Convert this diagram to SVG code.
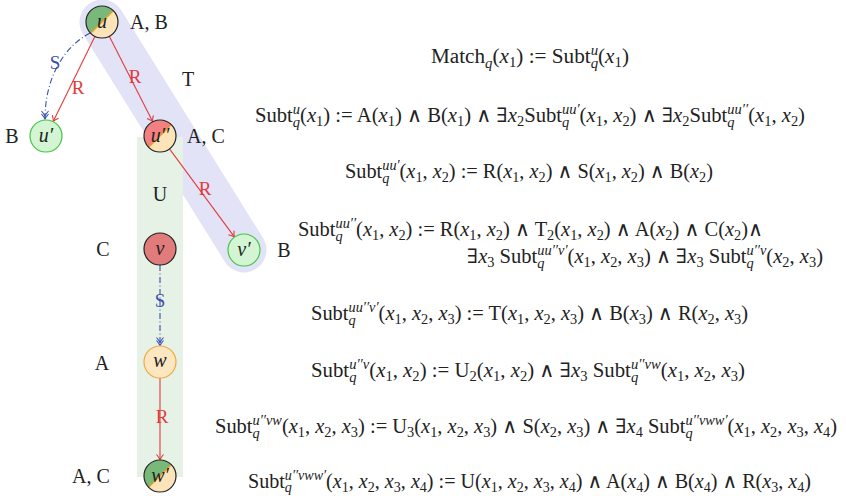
<svg xmlns="http://www.w3.org/2000/svg" width="846" height="496" viewBox="0 0 846 496">
<style>
.f{font-family:"Liberation Serif","DejaVu Serif",serif;font-size:20px;fill:#222}
.i{font-style:italic}
.sc{font-size:14px}
.nl{font-family:"Liberation Serif","DejaVu Serif",serif;font-size:20px;fill:#222;text-anchor:middle}
.nt{font-family:"Liberation Serif","DejaVu Serif",serif;font-size:20px;font-style:italic;fill:#222;text-anchor:middle}
.el{font-family:"Liberation Serif","DejaVu Serif",serif;font-size:19px;text-anchor:middle}
.red{fill:#e23b3b}
.blue{fill:#3a4fae}
.er{stroke:#e23b3b;stroke-width:1.1;fill:none}
.eb{stroke:#3a4fae;stroke-width:1.1;fill:none;stroke-dasharray:6 2.5 1 2.5}
.nk{stroke:#222;stroke-width:1.2}
.dg{stroke:#f0a020;stroke-width:1.3}
</style>
<defs>
<marker id="ar" markerUnits="userSpaceOnUse" markerWidth="12" markerHeight="12" viewBox="-8 -6 10 12" refX="0" refY="0" orient="auto">
<path d="M-5,-3.5 Q-2,-1 0,0 Q-2,1 -5,3.5" fill="none" stroke="#e23b3b" stroke-width="1.1"/>
</marker>
<marker id="ab" markerUnits="userSpaceOnUse" markerWidth="14" markerHeight="12" viewBox="-10 -6 12 12" refX="0" refY="0" orient="auto">
<path d="M-5,-3.5 Q-2,-1 0,0 Q-2,1 -5,3.5 M-8,-3.5 Q-5,-1 -3,0 Q-5,1 -8,3.5" fill="none" stroke="#3a4fae" stroke-width="1.1"/>
</marker>
</defs>
<rect width="846" height="496" fill="#fff"/>
<g id="backgrounds">
<line x1="102" y1="22" x2="244" y2="250" stroke="#e3e3f7" stroke-width="45" stroke-linecap="round"/>
<rect x="137" y="137" width="46" height="340" fill="#e6f2e6"/>
<text class="nl" x="188" y="86">T</text>
<text class="nl" x="160" y="201">U</text>
</g>
<g id="connectors">
<line class="er" x1="94.9" y1="36.4" x2="53.3" y2="121.2" marker-end="url(#ar)"/>
<text class="el red" x="78" y="94">R</text>
<line class="er" x1="109.3" y1="36.3" x2="152.5" y2="121.3" marker-end="url(#ar)"/>
<text class="el red" x="135" y="83">R</text>
<path class="eb" d="M90,33 C62,48 45,80 45,119" marker-end="url(#ab)"/>
<text class="el blue" x="55" y="69">S</text>
<line class="er" x1="169.5" y1="148.9" x2="234.2" y2="236.7" marker-end="url(#ar)"/>
<text class="el red" x="205" y="195">R</text>
<line class="eb" x1="160" y1="265" x2="160" y2="345.5" marker-end="url(#ab)"/>
<text class="el blue" x="160" y="307">S</text>
<line class="er" x1="160" y1="378" x2="160" y2="459.5" marker-end="url(#ar)"/>
<text class="el red" x="162" y="423">R</text>
</g>
<g id="node-u">
<path d="M90.69,33.31 A16,16 0 0 1 113.31,10.69 Z" fill="#78b878"/>
<path d="M90.69,33.31 A16,16 0 0 0 113.31,10.69 Z" fill="#fde4b8"/>
<line class="dg" x1="90.69" y1="33.31" x2="113.31" y2="10.69"/>
<circle cx="102" cy="22" r="16" fill="none" class="nk"/>
<text class="nt" x="102" y="28">u</text>
<text class="nl" x="149" y="29">A, B</text>
</g>
<g id="node-u1">
<circle cx="46" cy="136" r="16" fill="#d3f5d3" stroke="#47c347" stroke-width="1.2"/>
<text class="nt" x="46" y="142">u′</text>
<text class="nl" x="12" y="143">B</text>
</g>
<g id="node-u2">
<path d="M148.69,147.31 A16,16 0 0 1 171.31,124.69 Z" fill="#f28080"/>
<path d="M148.69,147.31 A16,16 0 0 0 171.31,124.69 Z" fill="#fde4b8"/>
<line class="dg" x1="148.69" y1="147.31" x2="171.31" y2="124.69"/>
<circle cx="160" cy="136" r="16" fill="none" class="nk"/>
<text class="nt" x="160" y="142">u′′</text>
<text class="nl" x="206" y="143">A, C</text>
</g>
<g id="node-v">
<circle cx="160" cy="249" r="16" fill="#e27b7b" class="nk"/>
<text class="nt" x="160" y="255">v</text>
<text class="nl" x="103" y="256">C</text>
</g>
<g id="node-v1">
<circle cx="244" cy="250" r="16" fill="#d3f5d3" stroke="#47c347" stroke-width="1.2"/>
<text class="nt" x="244" y="256">v′</text>
<text class="nl" x="284" y="257">B</text>
</g>
<g id="node-w">
<circle cx="160" cy="362" r="16" fill="#fde7c2" stroke="#f2a93b" stroke-width="1.2"/>
<text class="nt" x="160" y="367">w</text>
<text class="nl" x="102" y="370">A</text>
</g>
<g id="node-w1">
<path d="M148.69,487.31 A16,16 0 0 1 171.31,464.69 Z" fill="#78b878"/>
<path d="M148.69,487.31 A16,16 0 0 0 171.31,464.69 Z" fill="#fde4b8"/>
<line class="dg" x1="148.69" y1="487.31" x2="171.31" y2="464.69"/>
<circle cx="160" cy="476" r="16" fill="none" class="nk"/>
<text class="nt" x="160" y="482">w′</text>
<text class="nl" x="91" y="483">A, C</text>
</g>
<g id="formulas">
<text class="f" x="431" y="63" textLength="198" lengthAdjust="spacingAndGlyphs">Match<tspan class="sc i" dy="5">q</tspan><tspan dy="-5">(</tspan><tspan class="i">x</tspan><tspan class="sc" dy="4">1</tspan><tspan dy="-4">) := Subt</tspan><tspan class="sc i" dy="5">q</tspan><tspan class="sc i" dx="-7" dy="-13">u</tspan><tspan dy="8">(</tspan><tspan class="i">x</tspan><tspan class="sc" dy="4">1</tspan><tspan dy="-4">)</tspan></text>
<text class="f" x="255" y="122" textLength="550" lengthAdjust="spacingAndGlyphs">Subt<tspan class="sc i" dy="5">q</tspan><tspan class="sc i" dx="-7" dy="-13">u</tspan><tspan dy="8">(</tspan><tspan class="i">x</tspan><tspan class="sc" dy="4">1</tspan><tspan dy="-4">) := A(</tspan><tspan class="i">x</tspan><tspan class="sc" dy="4">1</tspan><tspan dy="-4">) ∧ B(</tspan><tspan class="i">x</tspan><tspan class="sc" dy="4">1</tspan><tspan dy="-4">) ∧ ∃</tspan><tspan class="i">x</tspan><tspan class="sc" dy="4">2</tspan><tspan dy="-4">Subt</tspan><tspan class="sc i" dy="5">q</tspan><tspan class="sc i" dx="-7" dy="-13">uu′</tspan><tspan dy="8">(</tspan><tspan class="i">x</tspan><tspan class="sc" dy="4">1</tspan><tspan dy="-4">, </tspan><tspan class="i">x</tspan><tspan class="sc" dy="4">2</tspan><tspan dy="-4">) ∧ ∃</tspan><tspan class="i">x</tspan><tspan class="sc" dy="4">2</tspan><tspan dy="-4">Subt</tspan><tspan class="sc i" dy="5">q</tspan><tspan class="sc i" dx="-7" dy="-13">uu′′</tspan><tspan dy="8">(</tspan><tspan class="i">x</tspan><tspan class="sc" dy="4">1</tspan><tspan dy="-4">, </tspan><tspan class="i">x</tspan><tspan class="sc" dy="4">2</tspan><tspan dy="-4">)</tspan></text>
<text class="f" x="345" y="178" textLength="368" lengthAdjust="spacingAndGlyphs">Subt<tspan class="sc i" dy="5">q</tspan><tspan class="sc i" dx="-7" dy="-13">uu′</tspan><tspan dy="8">(</tspan><tspan class="i">x</tspan><tspan class="sc" dy="4">1</tspan><tspan dy="-4">, </tspan><tspan class="i">x</tspan><tspan class="sc" dy="4">2</tspan><tspan dy="-4">) := R(</tspan><tspan class="i">x</tspan><tspan class="sc" dy="4">1</tspan><tspan dy="-4">, </tspan><tspan class="i">x</tspan><tspan class="sc" dy="4">2</tspan><tspan dy="-4">) ∧ S(</tspan><tspan class="i">x</tspan><tspan class="sc" dy="4">1</tspan><tspan dy="-4">, </tspan><tspan class="i">x</tspan><tspan class="sc" dy="4">2</tspan><tspan dy="-4">) ∧ B(</tspan><tspan class="i">x</tspan><tspan class="sc" dy="4">2</tspan><tspan dy="-4">)</tspan></text>
<text class="f" x="298" y="236" textLength="465" lengthAdjust="spacingAndGlyphs">Subt<tspan class="sc i" dy="5">q</tspan><tspan class="sc i" dx="-7" dy="-13">uu′′</tspan><tspan dy="8">(</tspan><tspan class="i">x</tspan><tspan class="sc" dy="4">1</tspan><tspan dy="-4">, </tspan><tspan class="i">x</tspan><tspan class="sc" dy="4">2</tspan><tspan dy="-4">) := R(</tspan><tspan class="i">x</tspan><tspan class="sc" dy="4">1</tspan><tspan dy="-4">, </tspan><tspan class="i">x</tspan><tspan class="sc" dy="4">2</tspan><tspan dy="-4">) ∧ T</tspan><tspan class="sc" dy="4">2</tspan><tspan dy="-4">(</tspan><tspan class="i">x</tspan><tspan class="sc" dy="4">1</tspan><tspan dy="-4">, </tspan><tspan class="i">x</tspan><tspan class="sc" dy="4">2</tspan><tspan dy="-4">) ∧ A(</tspan><tspan class="i">x</tspan><tspan class="sc" dy="4">2</tspan><tspan dy="-4">) ∧ C(</tspan><tspan class="i">x</tspan><tspan class="sc" dy="4">2</tspan><tspan dy="-4">)∧</tspan></text>
<text class="f" x="467" y="263" textLength="356" lengthAdjust="spacingAndGlyphs">∃<tspan class="i">x</tspan><tspan class="sc" dy="4">3</tspan><tspan dy="-4"> Subt</tspan><tspan class="sc i" dy="5">q</tspan><tspan class="sc i" dx="-7" dy="-13">uu′′v′</tspan><tspan dy="8">(</tspan><tspan class="i">x</tspan><tspan class="sc" dy="4">1</tspan><tspan dy="-4">, </tspan><tspan class="i">x</tspan><tspan class="sc" dy="4">2</tspan><tspan dy="-4">, </tspan><tspan class="i">x</tspan><tspan class="sc" dy="4">3</tspan><tspan dy="-4">) ∧ ∃</tspan><tspan class="i">x</tspan><tspan class="sc" dy="4">3</tspan><tspan dy="-4"> Subt</tspan><tspan class="sc i" dy="5">q</tspan><tspan class="sc i" dx="-7" dy="-13">u′′v</tspan><tspan dy="8">(</tspan><tspan class="i">x</tspan><tspan class="sc" dy="4">2</tspan><tspan dy="-4">, </tspan><tspan class="i">x</tspan><tspan class="sc" dy="4">3</tspan><tspan dy="-4">)</tspan></text>
<text class="f" x="311" y="320" textLength="437" lengthAdjust="spacingAndGlyphs">Subt<tspan class="sc i" dy="5">q</tspan><tspan class="sc i" dx="-7" dy="-13">uu′′v′</tspan><tspan dy="8">(</tspan><tspan class="i">x</tspan><tspan class="sc" dy="4">1</tspan><tspan dy="-4">, </tspan><tspan class="i">x</tspan><tspan class="sc" dy="4">2</tspan><tspan dy="-4">, </tspan><tspan class="i">x</tspan><tspan class="sc" dy="4">3</tspan><tspan dy="-4">) := T(</tspan><tspan class="i">x</tspan><tspan class="sc" dy="4">1</tspan><tspan dy="-4">, </tspan><tspan class="i">x</tspan><tspan class="sc" dy="4">2</tspan><tspan dy="-4">, </tspan><tspan class="i">x</tspan><tspan class="sc" dy="4">3</tspan><tspan dy="-4">) ∧ B(</tspan><tspan class="i">x</tspan><tspan class="sc" dy="4">3</tspan><tspan dy="-4">) ∧ R(</tspan><tspan class="i">x</tspan><tspan class="sc" dy="4">2</tspan><tspan dy="-4">, </tspan><tspan class="i">x</tspan><tspan class="sc" dy="4">3</tspan><tspan dy="-4">)</tspan></text>
<text class="f" x="311" y="377" textLength="434" lengthAdjust="spacingAndGlyphs">Subt<tspan class="sc i" dy="5">q</tspan><tspan class="sc i" dx="-7" dy="-13">u′′v</tspan><tspan dy="8">(</tspan><tspan class="i">x</tspan><tspan class="sc" dy="4">1</tspan><tspan dy="-4">, </tspan><tspan class="i">x</tspan><tspan class="sc" dy="4">2</tspan><tspan dy="-4">) := U</tspan><tspan class="sc" dy="4">2</tspan><tspan dy="-4">(</tspan><tspan class="i">x</tspan><tspan class="sc" dy="4">1</tspan><tspan dy="-4">, </tspan><tspan class="i">x</tspan><tspan class="sc" dy="4">2</tspan><tspan dy="-4">) ∧ ∃</tspan><tspan class="i">x</tspan><tspan class="sc" dy="4">3</tspan><tspan dy="-4"> Subt</tspan><tspan class="sc i" dy="5">q</tspan><tspan class="sc i" dx="-7" dy="-13">u′′vw</tspan><tspan dy="8">(</tspan><tspan class="i">x</tspan><tspan class="sc" dy="4">1</tspan><tspan dy="-4">, </tspan><tspan class="i">x</tspan><tspan class="sc" dy="4">2</tspan><tspan dy="-4">, </tspan><tspan class="i">x</tspan><tspan class="sc" dy="4">3</tspan><tspan dy="-4">)</tspan></text>
<text class="f" x="215" y="433" textLength="622" lengthAdjust="spacingAndGlyphs">Subt<tspan class="sc i" dy="5">q</tspan><tspan class="sc i" dx="-7" dy="-13">u′′vw</tspan><tspan dy="8">(</tspan><tspan class="i">x</tspan><tspan class="sc" dy="4">1</tspan><tspan dy="-4">, </tspan><tspan class="i">x</tspan><tspan class="sc" dy="4">2</tspan><tspan dy="-4">, </tspan><tspan class="i">x</tspan><tspan class="sc" dy="4">3</tspan><tspan dy="-4">) := U</tspan><tspan class="sc" dy="4">3</tspan><tspan dy="-4">(</tspan><tspan class="i">x</tspan><tspan class="sc" dy="4">1</tspan><tspan dy="-4">, </tspan><tspan class="i">x</tspan><tspan class="sc" dy="4">2</tspan><tspan dy="-4">, </tspan><tspan class="i">x</tspan><tspan class="sc" dy="4">3</tspan><tspan dy="-4">) ∧ S(</tspan><tspan class="i">x</tspan><tspan class="sc" dy="4">2</tspan><tspan dy="-4">, </tspan><tspan class="i">x</tspan><tspan class="sc" dy="4">3</tspan><tspan dy="-4">) ∧ ∃</tspan><tspan class="i">x</tspan><tspan class="sc" dy="4">4</tspan><tspan dy="-4"> Subt</tspan><tspan class="sc i" dy="5">q</tspan><tspan class="sc i" dx="-7" dy="-13">u′′vww′</tspan><tspan dy="8">(</tspan><tspan class="i">x</tspan><tspan class="sc" dy="4">1</tspan><tspan dy="-4">, </tspan><tspan class="i">x</tspan><tspan class="sc" dy="4">2</tspan><tspan dy="-4">, </tspan><tspan class="i">x</tspan><tspan class="sc" dy="4">3</tspan><tspan dy="-4">, </tspan><tspan class="i">x</tspan><tspan class="sc" dy="4">4</tspan><tspan dy="-4">)</tspan></text>
<text class="f" x="248" y="488" textLength="563" lengthAdjust="spacingAndGlyphs">Subt<tspan class="sc i" dy="4">q</tspan><tspan class="sc i" dx="-7" dy="-12">u′′vww′</tspan><tspan dy="8">(</tspan><tspan class="i">x</tspan><tspan class="sc" dy="4">1</tspan><tspan dy="-4">, </tspan><tspan class="i">x</tspan><tspan class="sc" dy="4">2</tspan><tspan dy="-4">, </tspan><tspan class="i">x</tspan><tspan class="sc" dy="4">3</tspan><tspan dy="-4">, </tspan><tspan class="i">x</tspan><tspan class="sc" dy="4">4</tspan><tspan dy="-4">) := U(</tspan><tspan class="i">x</tspan><tspan class="sc" dy="4">1</tspan><tspan dy="-4">, </tspan><tspan class="i">x</tspan><tspan class="sc" dy="4">2</tspan><tspan dy="-4">, </tspan><tspan class="i">x</tspan><tspan class="sc" dy="4">3</tspan><tspan dy="-4">, </tspan><tspan class="i">x</tspan><tspan class="sc" dy="4">4</tspan><tspan dy="-4">) ∧ A(</tspan><tspan class="i">x</tspan><tspan class="sc" dy="4">4</tspan><tspan dy="-4">) ∧ B(</tspan><tspan class="i">x</tspan><tspan class="sc" dy="4">4</tspan><tspan dy="-4">) ∧ R(</tspan><tspan class="i">x</tspan><tspan class="sc" dy="4">3</tspan><tspan dy="-4">, </tspan><tspan class="i">x</tspan><tspan class="sc" dy="4">4</tspan><tspan dy="-4">)</tspan></text>
</g>
</svg>
